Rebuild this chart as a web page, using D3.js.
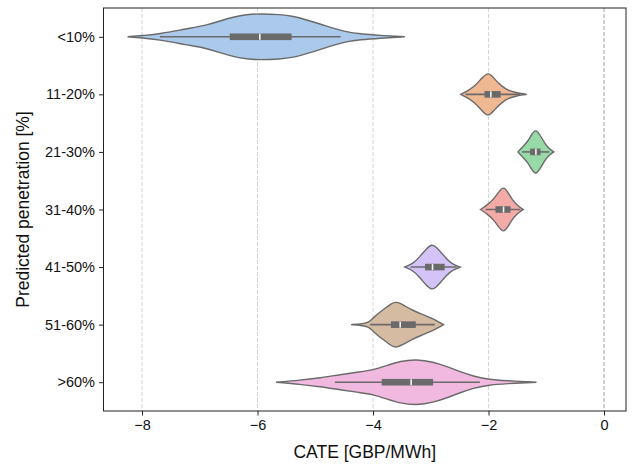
<!DOCTYPE html>
<html>
<head>
<meta charset="utf-8">
<script src="https://cdn.jsdelivr.net/npm/d3@7"></script>
<style>
  body { margin: 0; background: #fff; }
  svg { font-family: "Liberation Sans", Arial, Helvetica, sans-serif; }
  .tick text { font-size: 14.5px; fill: #111; font-family: "Liberation Sans", Arial, sans-serif; }
  .axis-label { font-size: 17.5px; fill: #111; }
</style>
</head>
<body>
<svg width="634" height="466"></svg>
<script>
// Categories (top to bottom)
const categories = ["<10%", "11-20%", "21-30%", "31-40%", "41-50%", "51-60%", ">60%"];

// Box statistics
const whiskerLow  = [-7.69, -2.40, -1.42, -2.05, -3.35, -4.05, -4.66];
const q1          = [-6.48, -2.07, -1.28, -1.88, -3.10, -3.69, -3.85];
const median      = [-5.96, -1.96, -1.18, -1.74, -2.97, -3.53, -3.34];
const q3          = [-5.41, -1.79, -1.10, -1.62, -2.76, -3.26, -2.96];
const whiskerHigh = [-4.56, -1.45, -0.95, -1.45, -2.55, -2.93, -2.15];

// Violin outlines: [CATE value, relative half-width]
const densities = [
  [[-8.25, 0], [-7.95, 0.06], [-7.69, 0.13], [-7.23, 0.35], [-6.88, 0.5], [-6.65, 0.69], [-6.42, 0.86],
   [-6.19, 0.97], [-5.96, 1.0], [-5.61, 0.97], [-5.38, 0.9], [-5.15, 0.73], [-4.92, 0.56], [-4.69, 0.37],
   [-4.46, 0.21], [-4.23, 0.13], [-3.88, 0.06], [-3.45, 0]],
  [[-2.48, 0], [-2.35, 0.17], [-2.23, 0.38], [-2.12, 0.7], [-2.0, 1.0], [-1.89, 0.64], [-1.77, 0.35],
   [-1.66, 0.17], [-1.54, 0.09], [-1.43, 0.03], [-1.34, 0]],
  [[-1.49, 0], [-1.42, 0.2], [-1.33, 0.42], [-1.25, 0.78], [-1.18, 1.0], [-1.10, 0.7], [-1.02, 0.35],
   [-0.95, 0.13], [-0.87, 0]],
  [[-2.14, 0], [-2.02, 0.2], [-1.90, 0.48], [-1.82, 0.78], [-1.74, 1.0], [-1.67, 0.78], [-1.59, 0.42],
   [-1.50, 0.17], [-1.40, 0]],
  [[-3.45, 0], [-3.30, 0.16], [-3.19, 0.45], [-3.07, 0.82], [-2.98, 1.0], [-2.90, 0.86], [-2.81, 0.6],
   [-2.72, 0.34], [-2.64, 0.16], [-2.55, 0.06], [-2.49, 0]],
  [[-4.38, 0], [-4.20, 0.03], [-4.08, 0.09], [-4.0, 0.28], [-3.91, 0.49], [-3.79, 0.71], [-3.68, 0.93],
   [-3.59, 1.0], [-3.48, 0.86], [-3.33, 0.64], [-3.16, 0.46], [-2.98, 0.28], [-2.87, 0.13], [-2.78, 0]],
  [[-5.68, 0], [-5.26, 0.09], [-4.92, 0.19], [-4.57, 0.33], [-4.23, 0.45], [-4.0, 0.53], [-3.77, 0.72],
   [-3.53, 0.92], [-3.24, 1.0], [-2.96, 0.88], [-2.72, 0.68], [-2.49, 0.45], [-2.26, 0.26], [-2.03, 0.13],
   [-1.68, 0.06], [-1.17, 0]]
];

const colors = ["#abc9ea", "#efb792", "#98daa7", "#f2aba7", "#d3c3f6", "#d6bba3", "#f1b9e0"];
const xTicks = [-8, -6, -4, -2, 0];

const svg = d3.select("svg");
const plotLeft = 103.5, plotRight = 626, plotTop = 8, plotBottom = 411;
const lineColor = "#6a6a6a";

const x = d3.scaleLinear().domain([-8.667, 0.38]).range([plotLeft, plotRight]);
const y = d3.scaleLinear().domain([-0.5, categories.length - 0.5]).range([plotTop, plotBottom]);
const halfWidth = y(0.4) - y(0);

// Grid lines
svg.append("g").selectAll("line")
  .data(xTicks)
  .join("line")
  .attr("x1", d => x(d)).attr("x2", d => x(d))
  .attr("y1", plotTop).attr("y2", plotBottom)
  .attr("stroke", d => d === 0 ? "#a0a0a0" : "#d4d4d4")
  .attr("stroke-width", 1)
  .attr("stroke-dasharray", "4,2");

// Violins
const area = d3.area()
  .curve(d3.curveBasis)
  .x(d => x(d[0]));

const violins = svg.append("g").selectAll("g")
  .data(categories)
  .join("g");

violins.append("path")
  .attr("d", (c, i) => {
    const cy = y(i);
    return area.y0(d => cy - d[1] * halfWidth).y1(d => cy + d[1] * halfWidth)(densities[i]);
  })
  .attr("fill", (c, i) => colors[i])
  .attr("stroke", lineColor)
  .attr("stroke-width", 1.4);

// Whiskers
violins.append("line")
  .attr("x1", (c, i) => x(whiskerLow[i]))
  .attr("x2", (c, i) => x(whiskerHigh[i]))
  .attr("y1", (c, i) => y(i)).attr("y2", (c, i) => y(i))
  .attr("stroke", lineColor)
  .attr("stroke-width", 1.6);

// Boxes
violins.append("rect")
  .attr("x", (c, i) => x(q1[i]))
  .attr("width", (c, i) => x(q3[i]) - x(q1[i]))
  .attr("y", (c, i) => y(i) - 3.3)
  .attr("height", 6.6)
  .attr("fill", lineColor);

// Median
violins.append("rect")
  .attr("x", (c, i) => x(median[i]) - 0.8)
  .attr("width", 1.6)
  .attr("y", (c, i) => y(i) - 3)
  .attr("height", 6)
  .attr("fill", "#f4f4f4");

// Axes
const xAxis = d3.axisBottom(x).tickValues(xTicks).tickSize(4.5).tickPadding(4)
  .tickFormat(d => d < 0 ? "\u2212" + Math.abs(d) : d);
svg.append("g")
  .attr("transform", `translate(0,${plotBottom})`)
  .call(xAxis)
  .call(g => g.select(".domain").remove());

const yAxis = d3.axisLeft(y).tickValues(d3.range(categories.length)).tickSize(4.5).tickPadding(4)
  .tickFormat(i => categories[i]);
svg.append("g")
  .attr("transform", `translate(${plotLeft},0)`)
  .call(yAxis)
  .call(g => g.select(".domain").remove());

svg.selectAll(".tick line").attr("stroke", "#222");

// Frame
svg.append("rect")
  .attr("x", plotLeft).attr("y", plotTop)
  .attr("width", plotRight - plotLeft).attr("height", plotBottom - plotTop)
  .attr("fill", "none")
  .attr("stroke", "#222")
  .attr("stroke-width", 1);

// Labels
svg.append("text")
  .attr("class", "axis-label")
  .attr("x", (plotLeft + plotRight) / 2)
  .attr("y", 458)
  .attr("text-anchor", "middle")
  .text("CATE [GBP/MWh]");

svg.append("text")
  .attr("class", "axis-label")
  .attr("transform", `translate(29,${(plotTop + plotBottom) / 2}) rotate(-90)`)
  .attr("text-anchor", "middle")
  .text("Predicted penetration [%]");
</script>
</body>
</html>
